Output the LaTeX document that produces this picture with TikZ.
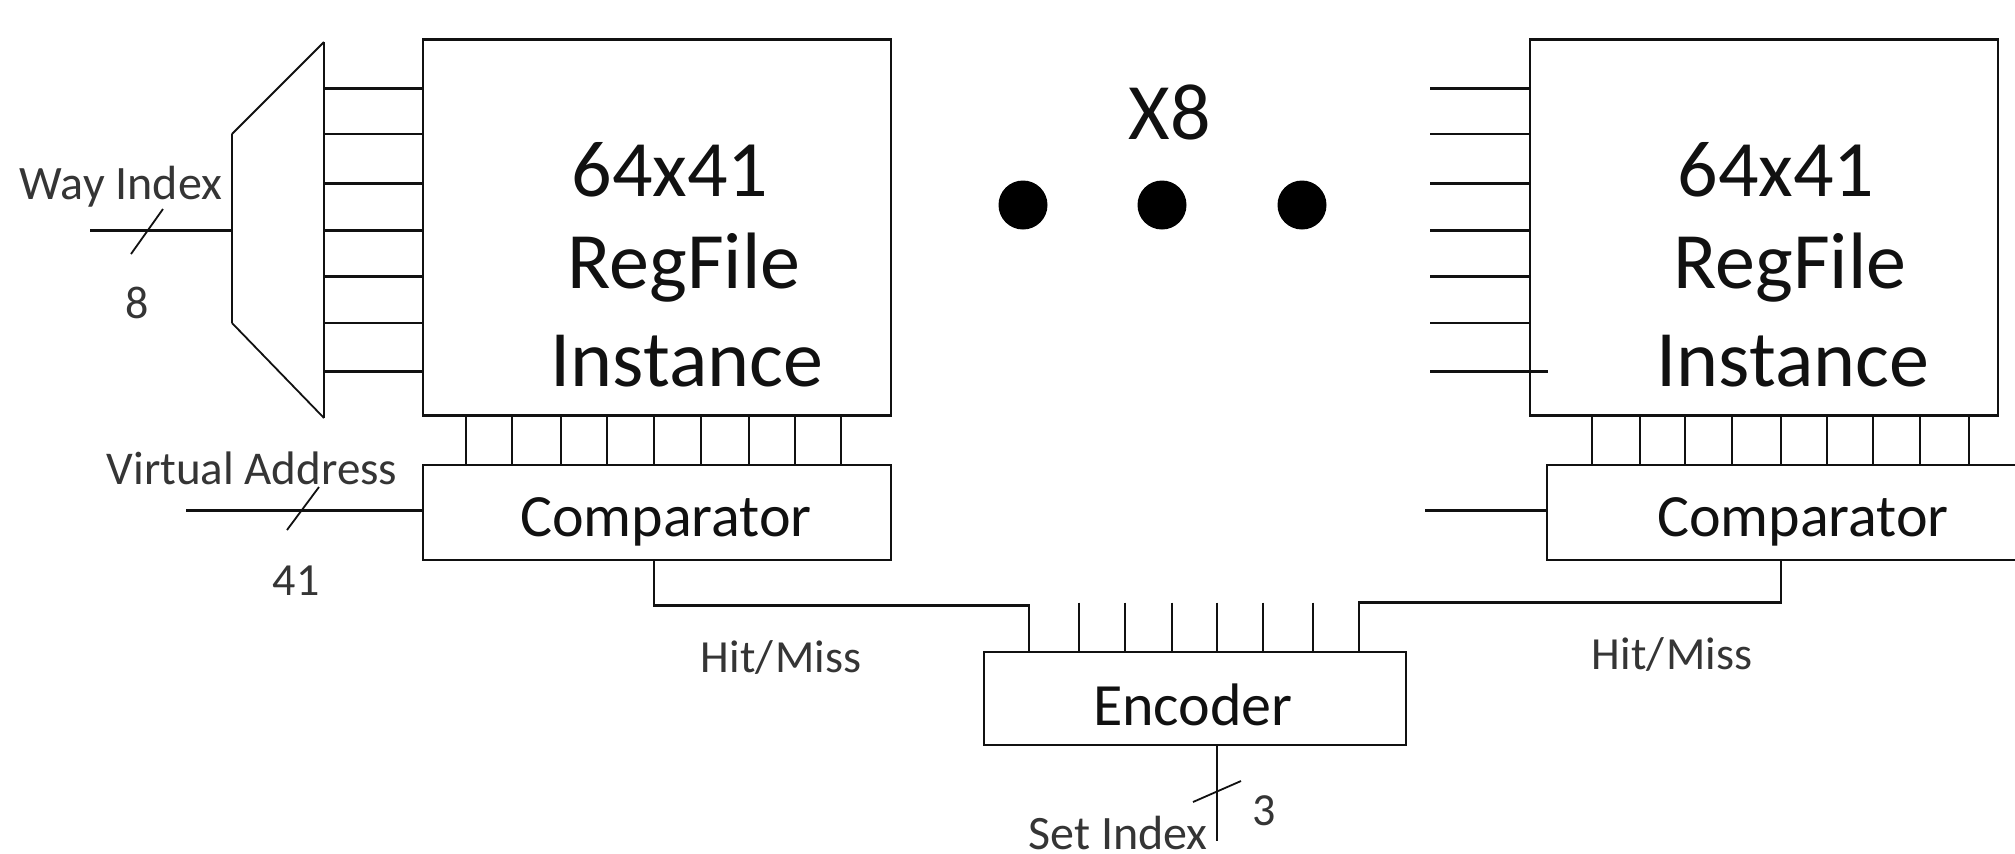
\documentclass[tikz,border=0pt]{standalone}
\usepackage{fontspec}
\setmainfont{Carlito}
\usetikzlibrary{calc}
\definecolor{ink}{HTML}{111111}
\tikzset{
  x=0.5pt,y=-0.5pt,
  wire/.style={draw=ink,line width=1.3pt},
  thin wire/.style={draw=ink,line width=0.9pt},
  blockbox/.style={draw=ink,line width=1.3pt,rectangle,inner sep=0pt,minimum width=#1},
  big/.style={font=\fontsize{40}{40}\selectfont,text=ink,inner sep=0pt,anchor=base},
  mid/.style={font=\fontsize{30}{30}\selectfont,text=ink,inner sep=0pt,anchor=base},
  small/.style={font=\fontsize{#1}{#1}\selectfont,text=ink!85!white,inner sep=0pt,anchor=base},
  small/.default=23,
  dot/.style={circle,fill=black,inner sep=0pt,minimum width=24.5pt}
}
\begin{document}
\begin{tikzpicture}
\useasboundingbox (0,0) rectangle (2015,853);
\fill[white] (0,0) rectangle (2015,853);
\clip (0,0) rectangle (2015,853);
% blocks
\node[blockbox=234pt,minimum height=188pt] (regL) at (657,227.5) {};
\node[blockbox=234pt,minimum height=47.5pt] (cmpL) at (657,512.5) {};
\node[blockbox=234pt,minimum height=188pt] (regR) at (1764,227.5) {};
\node[blockbox=237pt,minimum height=47.5pt] (cmpR) at (1784,512.5) {};
\node[blockbox=211pt,minimum height=46.5pt] (enc) at (1195,698.5) {};
% mux
\coordinate (muxA) at (324,42);
\coordinate (muxB) at (232,134);
\coordinate (muxC) at (232,323);
\coordinate (muxD) at (324,418);
\draw[wire] (muxB) -- (muxC);
\draw[wire] (muxA) -- (muxD);
\draw[thin wire] (muxB) -- (muxA);
\draw[thin wire] (muxC) -- (muxD);
% stubs
\foreach \i/\yy in {1/88.5,2/134,3/183.5,4/230.5,5/276.5,6/323,7/371.5}{
  \coordinate (sL\i) at (324,\yy);
  \coordinate (sR\i) at (1430,\yy);
  \draw[wire] (sL\i) -- (sL\i -| regL.west);
  \draw[wire] (sR\i) -- (sR\i -| regR.west);
}
\coordinate (sR7end) at (1548,371.5);
\draw[wire] (sR7) -- (sR7end);
% register to comparator buses
\foreach \xx in {466,512,561,607,654,701,749,795,841}{
  \coordinate (bt) at (\xx,415);
  \draw[wire] (bt |- regL.south) -- (bt |- cmpL.north);
}
\foreach \xx in {1592,1640,1685,1732,1781,1827,1873,1920,1969}{
  \coordinate (bt) at (\xx,415);
  \draw[wire] (bt |- regR.south) -- (bt |- cmpR.north);
}
% inputs
\coordinate (wayIn) at (90,230.5);
\draw[wire] (wayIn) -- (wayIn -| muxB);
\coordinate (waySa) at (163,209); \coordinate (waySb) at (131,254);
\draw[thin wire] (waySa) -- (waySb);
\coordinate (vaIn) at (186,510.5);
\draw[wire] (vaIn) -- (vaIn -| cmpL.west);
\coordinate (vaSa) at (319,487); \coordinate (vaSb) at (287,530);
\draw[thin wire] (vaSa) -- (vaSb);
\coordinate (vaInR) at (1425,510.5);
\draw[wire] (vaInR) -- (vaInR -| cmpR.west);
% hit/miss
\coordinate (hitL) at (654,605.5);
\coordinate (hitLe) at (1029,605.5);
\coordinate (hitR) at (1781,602.5);
\coordinate (hitRe) at (1359,602.5);
\draw[wire] (hitL |- cmpL.south) -- (hitL) -- (hitLe) -- (hitLe |- enc.north);
\draw[wire] (hitR |- cmpR.south) -- (hitR) -- (hitRe) -- (hitRe |- enc.north);
\foreach \xx in {1079,1125,1172,1217,1263,1313}{
  \coordinate (et) at (\xx,602.5);
  \draw[wire] (et) -- (et |- enc.north);
}
% set index
\coordinate (setEnd) at (1217,841);
\draw[wire] (setEnd |- enc.south) -- (setEnd);
\coordinate (setSa) at (1241,781); \coordinate (setSb) at (1193,802);
\draw[thin wire] (setSa) -- (setSb);
% dots
\node[dot] (d1) at (1023,205) {};
\node[dot] (d2) at (1162,205) {};
\node[dot] (d3) at (1302,205) {};
% texts
\node[big] (t1) at (670,196) {64x41};
\node[big] (t2) at (684,288) {RegFile};
\node[big] (t3) at (687,386) {Instance};
\node[big] (t4) at (1776,196) {64x41};
\node[big] (t5) at (1790,288) {RegFile};
\node[big] (t6) at (1793,386) {Instance};
\node[big] (t7) at (1170,139) {X8};
\node[mid] (c1) at (666,536) {Comparator};
\node[mid] (c2) at (1803,536) {Comparator};
\node[mid] (c3) at (1193,725) {Encoder};
\node[small=24] (w) at (121,199) {Way Index};
\node[small] (n8) at (137,318) {8};
\node[small=23.5] (v) at (252,484) {Virtual Address};
\node[small] (n41) at (296,595) {41};
\node[small] (h1) at (781,672) {Hit/\hspace{1pt}Miss};
\node[small] (h2) at (1672,669) {Hit/\hspace{1pt}Miss};
\node[small] (n3) at (1264,825) {3};
\node[small=24] (si) at (1118,849) {Set Index};
\end{tikzpicture}
\end{document}
